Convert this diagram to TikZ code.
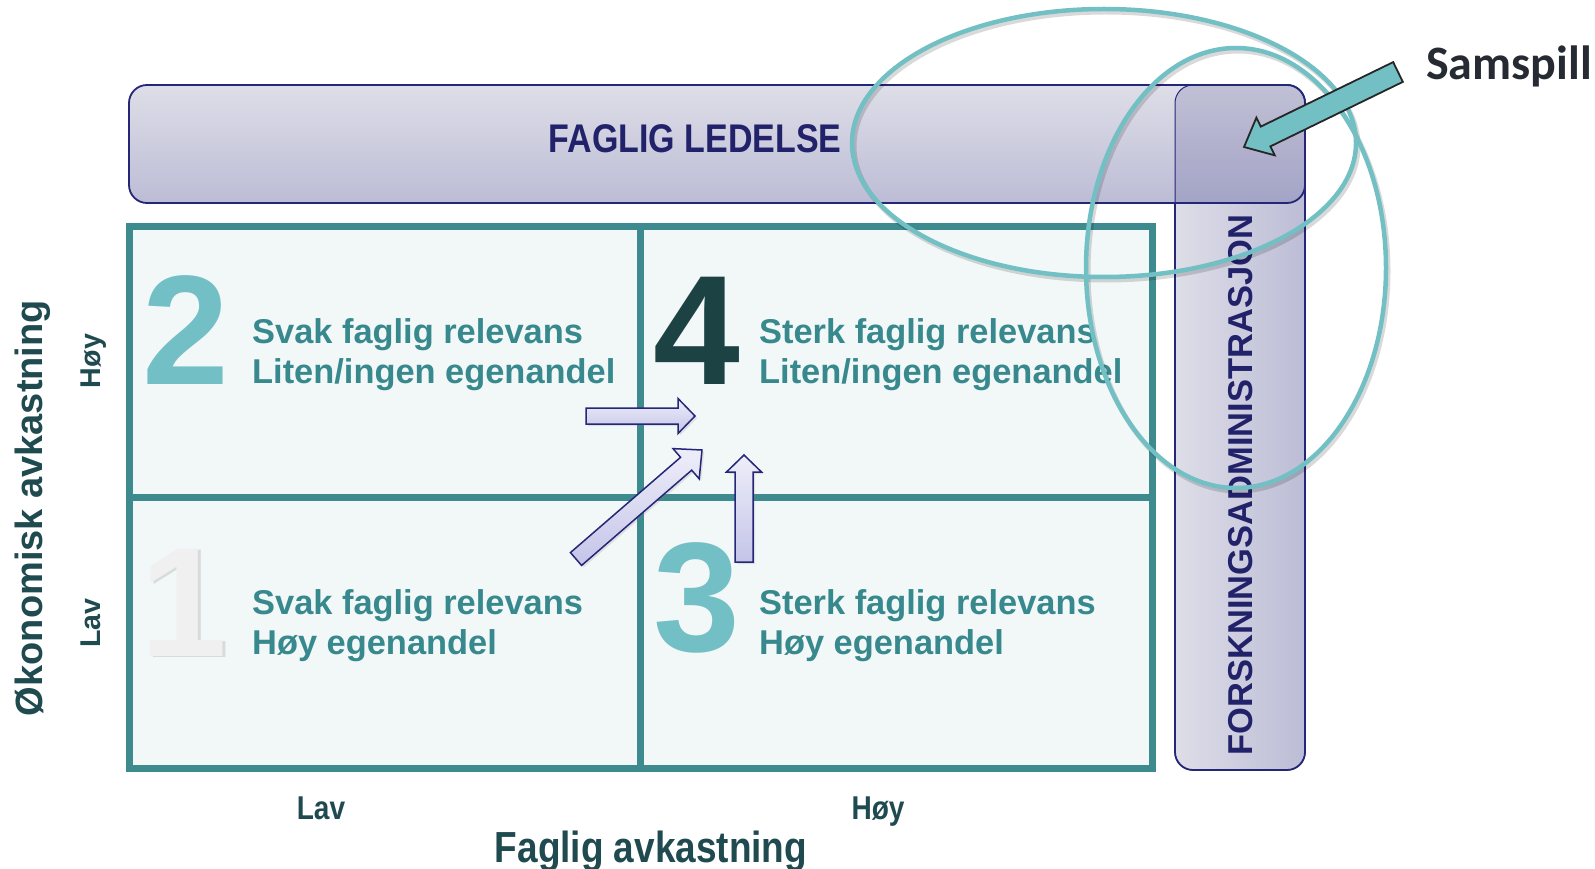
\documentclass[tikz,border=0pt]{standalone}
\usepackage{fontspec}
\setmainfont{Liberation Sans}
\newfontfamily\narrowfont[FakeStretch=0.85]{Liberation Sans}
\newfontfamily\samfont{Carlito}
\usetikzlibrary{calc,shapes.geometric,shadows}

\definecolor{gridteal}{RGB}{61,139,143}
\definecolor{cellfill}{RGB}{242,247,248}
\definecolor{textteal}{RGB}{55,137,141}
\definecolor{lightteal}{RGB}{114,192,197}
\definecolor{darkteal}{RGB}{29,66,68}
\definecolor{axisteal}{RGB}{31,74,79}
\definecolor{bandnavy}{RGB}{38,38,120}
\definecolor{labelnavy}{RGB}{34,34,107}
\definecolor{bandlight}{RGB}{222,222,232}
\definecolor{banddark}{RGB}{188,188,214}
\definecolor{lilaclight}{RGB}{238,238,250}
\definecolor{lilacdark}{RGB}{196,196,232}
\definecolor{ringteal}{RGB}{114,192,196}
\definecolor{samgray}{RGB}{38,43,51}

% block arrow: [style]{tail}{tip}{half body}{half head}{head length}
\newcommand{\blockarrow}[6][]{%
  \coordinate (#2-base) at ($(#3)!#6!(#2)$);
  \draw[#1] ($(#2)!#4!90:(#3)$) -- ($(#2-base)!#4!90:(#3)$)
    -- ($(#2-base)!#5!90:(#3)$) -- (#3) -- ($(#2-base)!#5!-90:(#3)$)
    -- ($(#2-base)!#4!-90:(#3)$) -- ($(#2)!#4!-90:(#3)$) -- cycle;
}

\begin{document}
\begin{tikzpicture}[x=1pt, y=-1pt,
  band/.style={draw=bandnavy, line width=1.8pt, rounded corners=18pt},
  cell/.style={draw=gridteal, line width=7pt, fill=cellfill,
    minimum width=512pt, minimum height=271pt, inner sep=0pt},
  bignum/.style={font=\fontsize{156}{156}\selectfont\bfseries, inner sep=0pt, anchor=base},
  celltext/.style={font=\fontsize{34.4}{40}\selectfont\bfseries, text=textteal,
    inner sep=0pt, anchor=base west},
  lilac/.style={draw=bandnavy, line width=1.5pt, top color=lilaclight, bottom color=lilacdark,
    drop shadow={opacity=0.2, shadow xshift=2pt, shadow yshift=-2pt}},
  pointer/.style={draw=black!85, line width=1.8pt, fill=ringteal},
  ring/.style={ellipse, draw=ringteal, line width=4.5pt, inner sep=0pt},
  ringshade/.style={ellipse, draw=black, draw opacity=0.15, line width=5pt, inner sep=0pt}]
  \useasboundingbox (0,0) rectangle (1595,869);

  % bands
  \draw[band, left color=bandlight, right color=banddark] (1175,85) rectangle (1305,770);
  \draw[band, top color=bandlight, bottom color=banddark] (129,85) rectangle (1305,203);
  \begin{scope}
    \clip[rounded corners=18pt] (129,85) rectangle (1305,203);
    \fill[bandnavy, opacity=0.16, rounded corners=18pt] (1175,85) rectangle (1305,770);
  \end{scope}
  \draw[bandnavy, line width=1pt, rounded corners=18pt] (1175,85) rectangle (1305,770);
  \node[font=\narrowfont\fontsize{40}{40}\selectfont\bfseries, text=labelnavy, anchor=base,
    inner sep=0pt] (ledelse) at (695,153) {FAGLIG LEDELSE};
  \node[font=\fontsize{34.5}{34.5}\selectfont\bfseries, text=labelnavy, anchor=base,
    rotate=90, inner sep=0pt] (forskadm) at (1252,485) {FORSKNINGSADMINISTRASJON};

  % quadrants
  \node[cell] (q2) at (385,361.5) {};
  \node[cell] (q4) at (896.5,361.5) {};
  \node[cell] (q1) at (385,632.5) {};
  \node[cell] (q3) at (896.5,632.5) {};

  \node[bignum, text=lightteal] (n2) at (186,384) {2};
  \node[bignum, text=darkteal] (n4) at (697,384) {4};
  \node[bignum, text=black!25, opacity=0.5] (n1shade) at (187,657) {1};
  \node[bignum, text=black!6] (n1) at (184,656) {1};
  \node[bignum, text=lightteal] (n3) at (697,651) {3};

  \node[celltext] (t2a) at (252,343) {Svak faglig relevans};
  \node[celltext] (t2b) at (252,383) {Liten/ingen egenandel};
  \node[celltext] (t4a) at (759,343) {Sterk faglig relevans};
  \node[celltext] (t4b) at (759,383) {Liten/ingen egenandel};
  \node[celltext] (t1a) at (252,614) {Svak faglig relevans};
  \node[celltext] (t1b) at (252,654) {Høy egenandel};
  \node[celltext] (t3a) at (759,614) {Sterk faglig relevans};
  \node[celltext] (t3b) at (759,654) {Høy egenandel};

  % axes
  \node[font=\fontsize{38}{38}\selectfont\bfseries, text=axisteal, rotate=90, anchor=base,
    inner sep=0pt] (yaxis) at (42,508) {Økonomisk avkastning};
  \node[font=\fontsize{28.6}{28.6}\selectfont\bfseries, text=axisteal, rotate=90, anchor=base,
    inner sep=0pt] (yhigh) at (100,361) {Høy};
  \node[font=\fontsize{28.6}{28.6}\selectfont\bfseries, text=axisteal, rotate=90, anchor=base,
    inner sep=0pt] (ylow) at (100,623) {Lav};
  \node[font=\narrowfont\fontsize{33}{33}\selectfont\bfseries, text=axisteal, anchor=base,
    inner sep=0pt] (xlow) at (321,819) {Lav};
  \node[font=\narrowfont\fontsize{33}{33}\selectfont\bfseries, text=axisteal, anchor=base,
    inner sep=0pt] (xhigh) at (878,819) {Høy};
  \node[font=\narrowfont\fontsize{43.5}{43.5}\selectfont\bfseries, text=axisteal, anchor=base,
    inner sep=0pt] (xaxis) at (651,862) {Faglig avkastning};

  % moves towards 4
  \coordinate (h1) at (586,416); \coordinate (h2) at (695,416);
  \coordinate (d1) at (576,559); \coordinate (d2) at (702,450);
  \coordinate (v1) at (744,562); \coordinate (v2) at (744,455);
  \blockarrow[lilac]{h1}{h2}{8pt}{17.5pt}{17pt}
  \blockarrow[lilac]{d1}{d2}{8.5pt}{20pt}{21pt}
  \blockarrow[lilac]{v1}{v2}{9pt}{17.5pt}{17pt}

  % samspill
  \node[ringshade, minimum width=504pt, minimum height=268pt] (ringtopshade) at (1106,146) {};
  \node[ringshade, minimum width=300pt, minimum height=440pt] (ringsideshade) at (1238,271) {};
  \node[ring, minimum width=504pt, minimum height=268pt] (ringtop) at (1104,143) {};
  \node[ring, minimum width=300pt, minimum height=440pt] (ringside) at (1236,268) {};

  \node[font=\samfont\fontsize{48}{48}\selectfont\bfseries, text=samgray, anchor=base,
    inner sep=0pt] (samspill) at (1509,80) {Samspill};
  \coordinate (s1) at (1398,72); \coordinate (s2) at (1244,147);
  \blockarrow[pointer]{s1}{s2}{11pt}{21pt}{24pt}
\end{tikzpicture}
\end{document}
